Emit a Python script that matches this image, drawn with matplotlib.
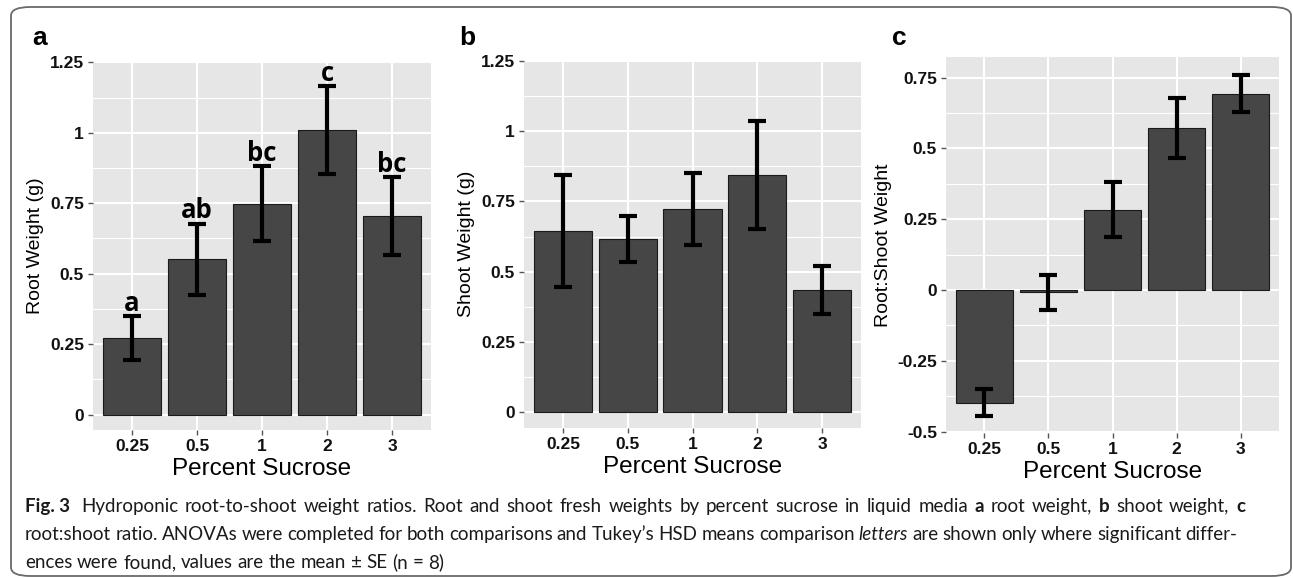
import matplotlib
matplotlib.use('Agg')
import matplotlib.pyplot as plt
from matplotlib.patches import FancyBboxPatch
from matplotlib.ticker import FixedLocator
import numpy as np

# percent sucrose categories
sucrose = ['0.25', '0.5', '1', '2', '3']

# panel a - root weight (g), mean and SE
root_mean = [0.273, 0.551, 0.748, 1.010, 0.705]
root_se = [0.078, 0.127, 0.133, 0.157, 0.137]
root_letters = ['a', 'ab', 'bc', 'c', 'bc']

# panel b - shoot weight (g)
shoot_mean = [0.644, 0.616, 0.722, 0.845, 0.434]
shoot_se = [0.200, 0.081, 0.128, 0.192, 0.085]

# panel c - root:shoot weight
ratio_mean = [-0.398, -0.008, 0.284, 0.571, 0.694]
ratio_se = [0.047, 0.062, 0.096, 0.106, 0.064]

plt.rcParams['font.family'] = ['Liberation Sans', 'DejaVu Sans']

W, H = 1293, 578
fig = plt.figure(figsize=(W / 100, H / 100), dpi=100)

def px_axes(l, t, r, b):
    return fig.add_axes([l / W, 1 - b / H, (r - l) / W, (b - t) / H])

panel_bg = '#e6e6e6'
bar_col = '#464646'

def gg_bars(ax, means, ses, ylim, yticks, ylabel, letters=None):
    x = np.arange(1, len(sucrose) + 1)
    ax.set_facecolor(panel_bg)
    for s in ax.spines.values():
        s.set_visible(False)
    ax.set_xlim(0.4, len(sucrose) + 0.6)
    ax.set_ylim(*ylim)
    ax.yaxis.set_major_locator(FixedLocator(yticks))
    minors = [(a + b) / 2 for a, b in zip(yticks[:-1], yticks[1:])]
    ax.yaxis.set_minor_locator(FixedLocator(minors))
    ax.set_yticklabels(['%g' % v for v in yticks])
    ax.set_xticks(x)
    ax.set_xticklabels(sucrose)
    ax.grid(True, which='major', color='white', linewidth=1.5)
    ax.grid(True, which='minor', axis='y', color='white', linewidth=0.8)
    ax.set_axisbelow(True)
    ax.tick_params(which='major', length=3.5, width=1, color='#555555', pad=3,
                   labelsize=12.5, labelcolor='#111111')
    ax.tick_params(which='minor', length=0)
    for lab in ax.get_xticklabels() + ax.get_yticklabels():
        lab.set_fontweight('bold')
    ax.bar(x, means, width=0.9, color=bar_col, edgecolor='#1a1a1a', linewidth=0.8, zorder=2)
    ax.errorbar(x, means, yerr=ses, fmt='none', ecolor='black', elinewidth=3,
                capsize=6.5, capthick=3, zorder=3)
    ax.set_xlabel('Percent Sucrose', fontsize=17.5, labelpad=3)
    ax.set_ylabel(ylabel, fontsize=14, labelpad=4)
    if letters:
        for xi, m, s, lt in zip(x, means, ses, letters):
            ax.text(xi, m + s + 0.018, lt, ha='center', va='baseline',
                    fontsize=18.5, fontweight='bold', family='Open Sans', zorder=4)

ax_a = px_axes(93, 61, 431, 430)
gg_bars(ax_a, root_mean, root_se, (-0.055, 1.255), [0, 0.25, 0.5, 0.75, 1, 1.25],
        'Root Weight (g)', root_letters)
ax_b = px_axes(524, 60, 861, 428)
gg_bars(ax_b, shoot_mean, shoot_se, (-0.056, 1.253), [0, 0.25, 0.5, 0.75, 1, 1.25],
        'Shoot Weight (g)')
ax_c = px_axes(946, 57, 1279, 433)
gg_bars(ax_c, ratio_mean, ratio_se, (-0.505, 0.823), [-0.5, -0.25, 0, 0.25, 0.5, 0.75],
        'Root:Shoot Weight')

# panel letters
for lbl, xp in [('a', 32), ('b', 459), ('c', 892)]:
    fig.text(xp / W, 1 - 38 / H, lbl, fontsize=19, fontweight='bold', va='center', ha='left')

# outer rounded frame
frame = FancyBboxPatch((11 / W, 1 - 576 / H), 1280 / W, 569 / H,
                       boxstyle='round,pad=0,rounding_size=0.015',
                       transform=fig.transFigure, fill=False,
                       edgecolor='#6a6a6a', linewidth=1.3)
fig.patches.append(frame)

# caption, drawn word by word so lines can be justified
cap_font = 'Lato'
cap_lines = [
    [('Fig.\u00a03', 'bold', 'normal'), ('Hydroponic root-to-shoot weight ratios. Root and shoot fresh weights by percent sucrose in liquid media', 'normal', 'normal'),
     ('a', 'bold', 'normal'), ('root weight,', 'normal', 'normal'), ('b', 'bold', 'normal'),
     ('shoot weight,', 'normal', 'normal'), ('c', 'bold', 'normal')],
    [('root:shoot ratio. ANOVAs were completed for both comparisons and Tukey\u2019s HSD means comparison', 'normal', 'normal'),
     ('letters', 'normal', 'italic'), ('are shown only where significant differ-', 'normal', 'normal')],
    [('ences were found, values are the mean \u00b1 SE (n = 8)', 'normal', 'normal')],
]
cap_base = [512, 540, 568]
cap_right = [1245, 1237, None]
cap_left = 25
renderer = fig.canvas.get_renderer()

def word_width(txt, size, weight='normal', style='normal'):
    t = fig.text(0, 0, txt, fontsize=size, fontweight=weight, fontstyle=style, family=cap_font)
    w = t.get_window_extent(renderer).width
    t.remove()
    return w

def split_words(segs):
    words = []
    for s, wt, st in segs:
        for wd in s.split(' '):
            words.append((wd, wt, st))
    return words

# font size so that lines 1 and 2, set naturally, fill the measured widths on average
line1 = ' '.join(s for s, wt, st in cap_lines[0]) + ' '
line2 = ' '.join(s for s, wt, st in cap_lines[1])
natural = word_width(line1, 13.0) + word_width(line2, 13.0)
size = 13.0 * (cap_right[0] + cap_right[1] - 2 * cap_left) / natural * 0.99
space = word_width('a a', size) - word_width('aa', size)

for segs, yy, right in zip(cap_lines, cap_base, cap_right):
    words = split_words(segs)
    widths = [word_width(w, size, wt, st) for w, wt, st in words]
    gap = space
    if right is not None:
        gap = (right - cap_left - sum(widths) - (space if segs is cap_lines[0] else 0)) / (len(words) - 1)
    xx = cap_left
    for (w, wt, st), ww in zip(words, widths):
        if w == 'Fig.\u00a03':
            ww += space
        fig.text(xx / W, 1 - yy / H, w, fontsize=size, fontweight=wt, fontstyle=st,
                 family=cap_font, va='baseline', ha='left', color='#1a1a1a')
        xx += ww + gap

fig.savefig('out.png', dpi=100)
